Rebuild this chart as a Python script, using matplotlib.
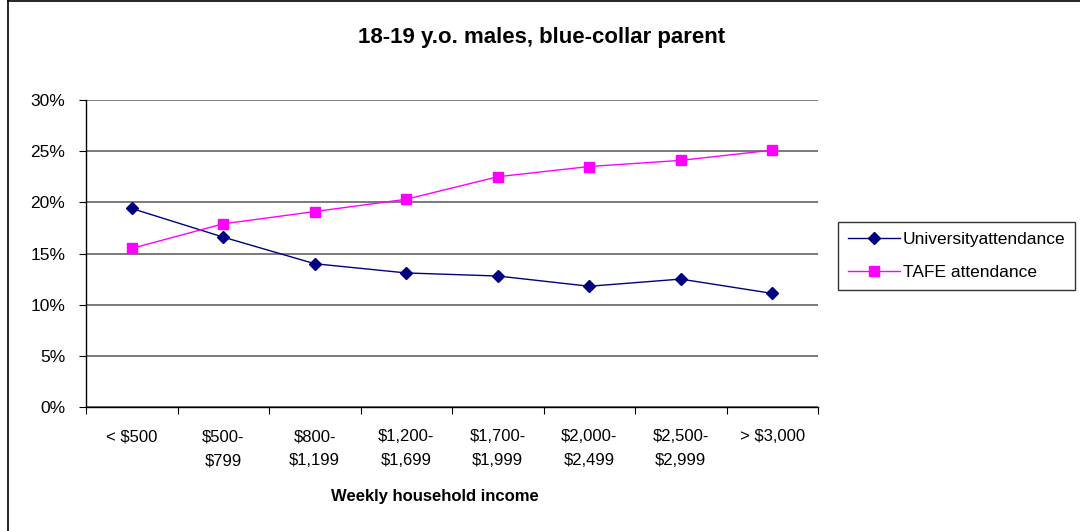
import numpy as np
import matplotlib
matplotlib.use("Agg")
import matplotlib.pyplot as plt
from matplotlib.ticker import PercentFormatter

plt.rcParams['font.family'] = ['Liberation Sans', 'DejaVu Sans']

# data
categories = ['< $500', '$500-\n$799', '$800-\n$1,199', '$1,200-\n$1,699',
              '$1,700-\n$1,999', '$2,000-\n$2,499', '$2,500-\n$2,999', '> $3,000']
university = [19.4, 16.6, 14.0, 13.1, 12.8, 11.8, 12.5, 11.1]
tafe = [15.5, 17.9, 19.1, 20.3, 22.5, 23.5, 24.1, 25.1]

fig = plt.figure(figsize=(10.8, 5.31), dpi=100)
ax = fig.add_axes([86/1080, 1 - 407/531, (818 - 86)/1080, (407 - 100)/531])

x = np.arange(len(categories))
ax.plot(x, university, color='#000080', lw=1, marker='D', ms=6.5,
        label='Universityattendance')
ax.plot(x, tafe, color='#FF00FF', lw=1, marker='s', ms=6.5,
        label='TAFE attendance')

ax.set_xlim(-0.5, len(categories) - 0.5)
ax.set_ylim(0, 30)
ax.set_yticks(np.arange(0, 31, 5))
ax.yaxis.set_major_formatter(PercentFormatter(decimals=0))
ax.yaxis.grid(True, color='#707070', lw=1.3)
ax.set_axisbelow(True)

# category ticks between categories, labels centred
ax.set_xticks(np.arange(-0.5, len(categories), 1))
ax.set_xticklabels([])
ax.set_xticks(x, minor=True)
ax.set_xticklabels(categories, minor=True, fontsize=12, linespacing=1.75)
ax.tick_params(axis='x', which='minor', length=0, pad=16)
ax.tick_params(axis='x', which='major', length=5, direction='out')
ax.tick_params(axis='y', labelsize=12.5, length=5, pad=10)

for s in ['top', 'right']:
    ax.spines[s].set_visible(False)
for s in ['left', 'bottom']:
    ax.spines[s].set_color('black')
    ax.spines[s].set_linewidth(1)

fig.text(542/1080, 1 - 38/531, '18-19 y.o. males, blue-collar parent',
         ha='center', va='center', fontsize=16, fontweight='bold')
fig.text(435/1080, 1 - 497/531, 'Weekly household income',
         ha='center', va='center', fontsize=12, fontweight='bold')

leg = fig.legend(loc='upper left', bbox_to_anchor=(838/1080, 1 - 222/531),
                 fontsize=12.5, frameon=True, fancybox=False, edgecolor='black',
                 borderaxespad=0, handlelength=3, borderpad=0.55,
                 labelspacing=1.05, handletextpad=0.2)
leg.get_frame().set_linewidth(1)

# outer chart-area border
fig.add_artist(plt.Line2D([8/1080, 8/1080], [0, 1], transform=fig.transFigure,
                          color='black', lw=1.2))
fig.add_artist(plt.Line2D([8/1080, 1], [1 - 1/531, 1 - 1/531],
                          transform=fig.transFigure, color='black', lw=1.2))

fig.savefig('out.png', dpi=100)
